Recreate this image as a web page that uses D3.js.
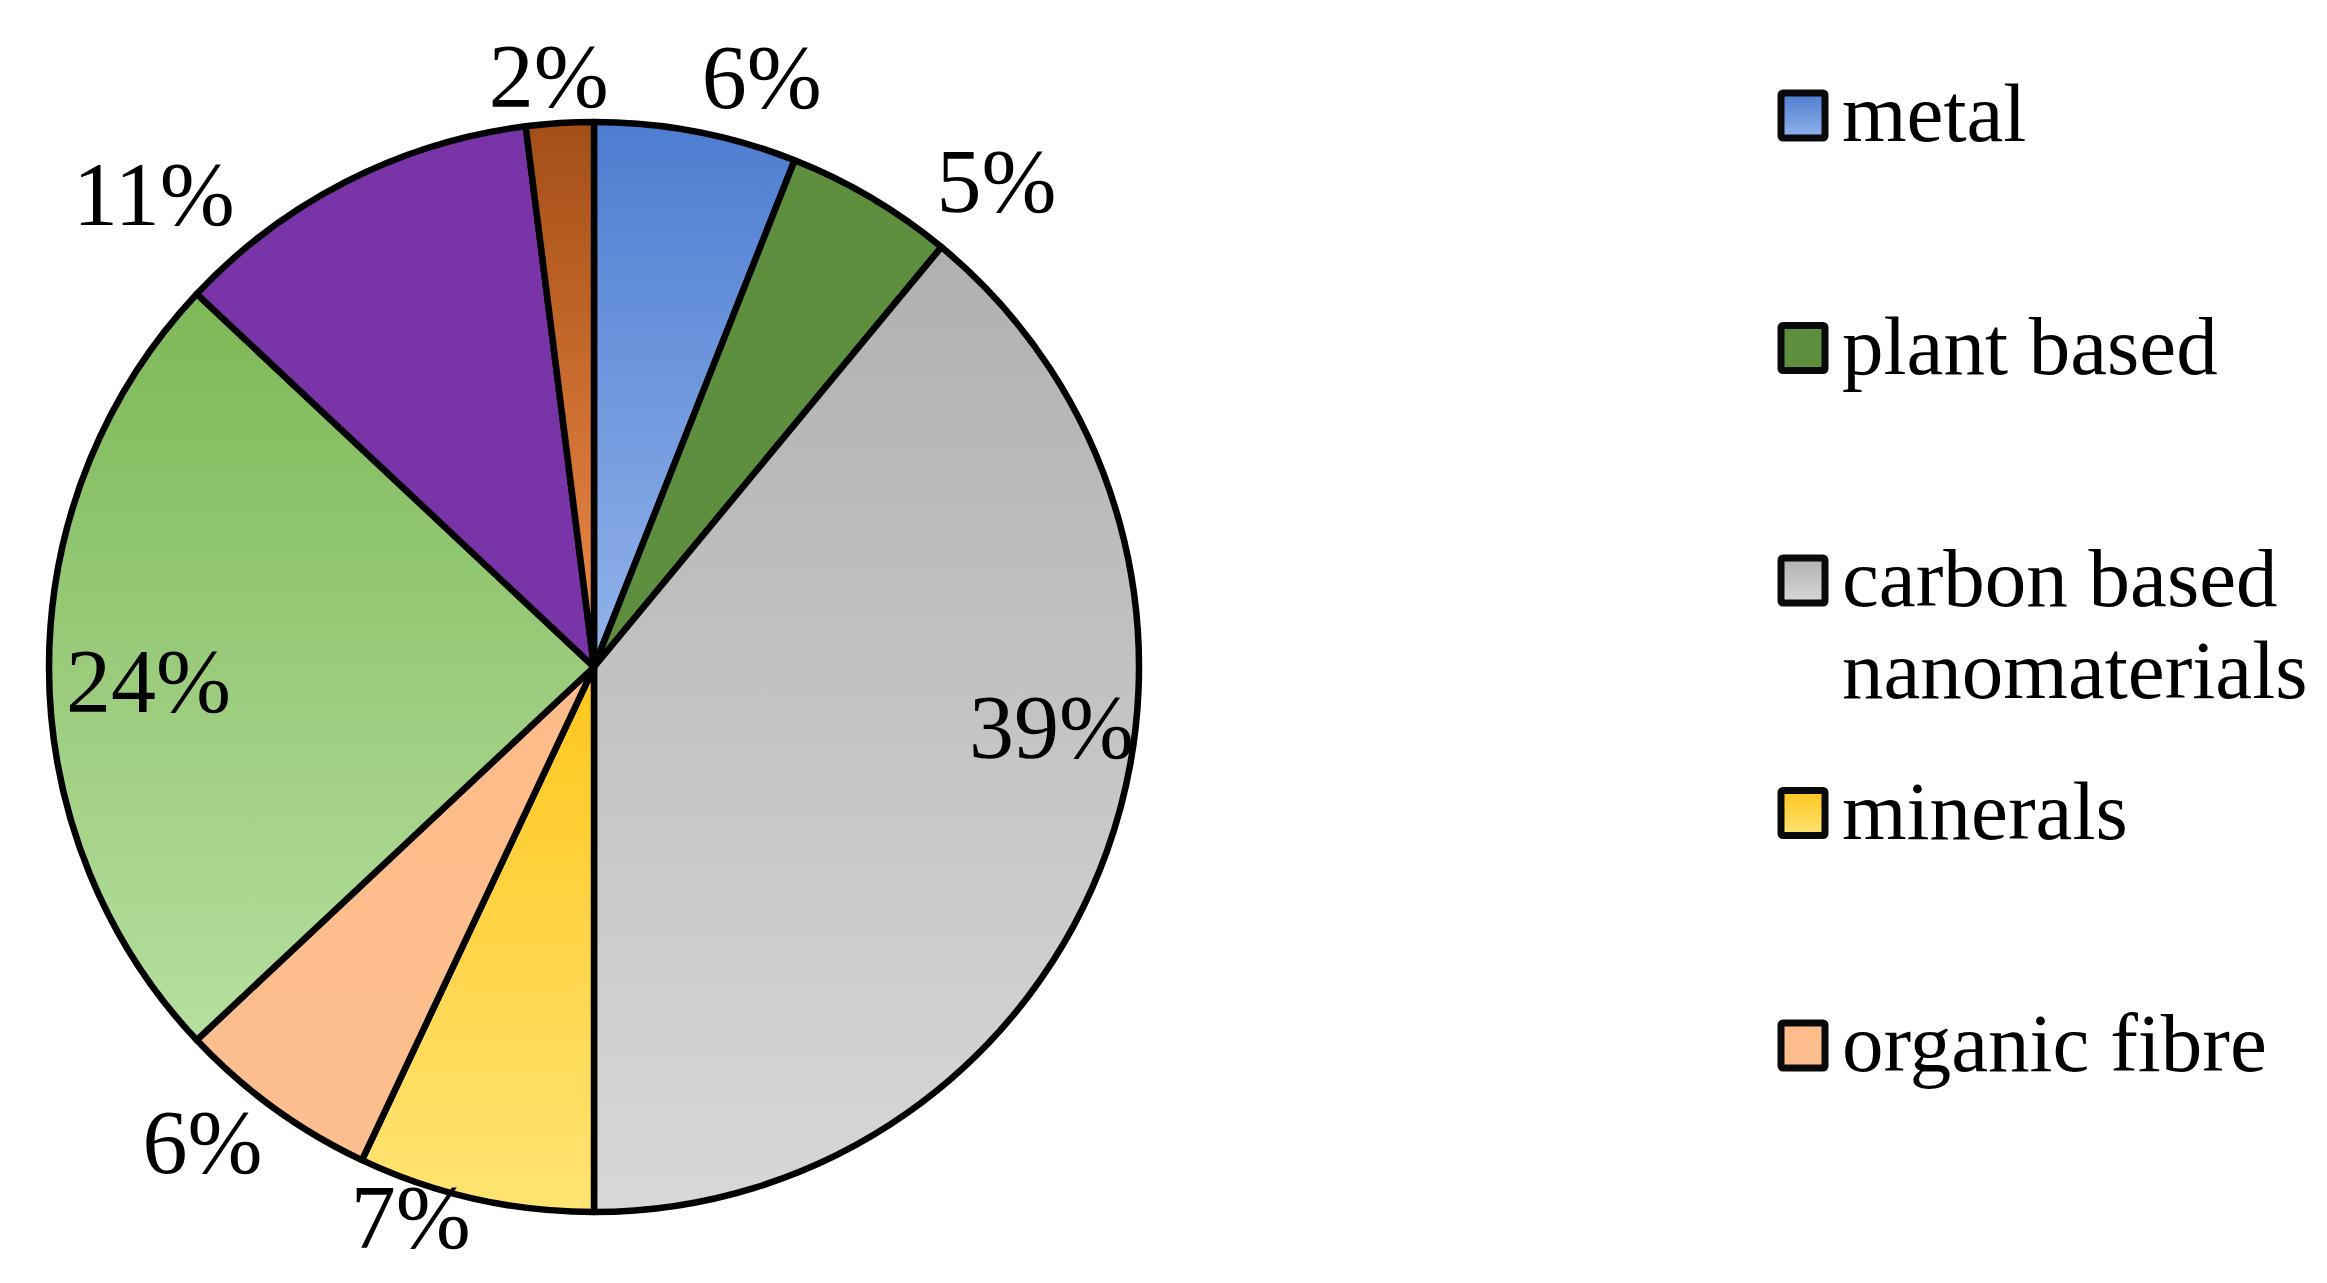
<!DOCTYPE html>
<html>
<head>
<meta charset="utf-8">
<script src="https://cdn.jsdelivr.net/npm/d3@7"></script>
<style>
  body { margin: 0; background: #fff; }
  text { font-family: "Liberation Serif", "Times New Roman", serif; fill: #000; }
</style>
</head>
<body>
<div id="chart"></div>
<script>
// slices, clockwise from 12 o'clock
const categories = ['metal', 'plant based', 'carbon based nanomaterials', 'minerals', 'organic fibre', 'series 6', 'series 7', 'series 8']
const shares = [6, 5, 39, 7, 6, 24, 11, 2]
// only the first five fit in the legend of the original
const legendCount = 5

// [top, bottom] of each slice's vertical gradient
const fills = [
  ['#4d7dd1', '#93b3ea'],
  ['#5e8f3e', '#5e8f3e'],
  ['#b0b0b0', '#d8d8d8'],
  ['#ffc61c', '#ffe474'],
  ['#fdbb88', '#fdbf90'],
  ['#7db857', '#b6df9f'],
  ['#7935a8', '#7935a8'],
  ['#a44e17', '#f08c48']
]

const W = 2327, H = 1283
const cx = 594, cy = 667, R = 545

// label placement: angle (deg, clockwise from top) and distance as fraction of R
const labelPlace = [
  [15.9, 1.123], [39.7, 1.156], [97.6, 0.847], [198.4, 1.066],
  [219.4, 1.132], [268, 0.818], [317, 1.184], [355.6, 1.085]
]

const svg = d3.select('#chart').append('svg').attr('width', W).attr('height', H)
const defs = svg.append('defs')

fills.forEach((c, i) => {
  const g = defs.append('linearGradient').attr('id', 'grad' + i)
    .attr('x1', 0).attr('y1', 0).attr('x2', 0).attr('y2', 1)
  g.append('stop').attr('offset', '0%').attr('stop-color', c[0])
  g.append('stop').attr('offset', '100%').attr('stop-color', c[1])
})

const pie = d3.pie().sort(null).value(d => d)
const arcs = pie(shares)
const arc = d3.arc().innerRadius(0).outerRadius(R)

const gPie = svg.append('g').attr('transform', `translate(${cx},${cy})`)
gPie.selectAll('path').data(arcs).enter().append('path')
  .attr('d', arc)
  .attr('fill', (d, i) => `url(#grad${i})`)
  .attr('stroke', '#000')
  .attr('stroke-width', 6.5)
  .attr('stroke-linejoin', 'round')

gPie.selectAll('text.pct').data(arcs).enter().append('text')
  .classed('pct', true)
  .attr('x', (d, i) => Math.sin(labelPlace[i][0] * Math.PI / 180) * labelPlace[i][1] * R)
  .attr('y', (d, i) => -Math.cos(labelPlace[i][0] * Math.PI / 180) * labelPlace[i][1] * R)
  .attr('dy', '0.33em')
  .attr('text-anchor', 'middle')
  .attr('font-size', 90)
  .text(d => d.data + '%')

// legend
const legend = svg.append('g').attr('transform', 'translate(1781,0)')
const rowY = d3.scaleLinear().domain([0, legendCount - 1]).range([141, 1071])
const maxW = 470

categories.slice(0, legendCount).forEach((name, i) => {
  const y = rowY(i)
  legend.append('rect')
    .attr('x', 0).attr('y', y - 48).attr('width', 44).attr('height', 45)
    .attr('fill', `url(#grad${i})`)
    .attr('stroke', '#0a0a0a').attr('stroke-width', 7)
    .attr('rx', 2)
  const t = legend.append('text').attr('x', 61).attr('y', y).attr('font-size', 83)
  // simple word wrap
  const words = name.split(' ')
  let line = [], lineNo = 0
  let tspan = t.append('tspan').attr('x', 61).attr('y', y)
  words.forEach(w => {
    line.push(w)
    tspan.text(line.join(' '))
    if (tspan.node().getComputedTextLength() > maxW && line.length > 1) {
      line.pop()
      tspan.text(line.join(' '))
      line = [w]
      lineNo++
      tspan = t.append('tspan').attr('x', 61).attr('y', y + lineNo * 92).text(w)
    }
  })
})
</script>
</body>
</html>
